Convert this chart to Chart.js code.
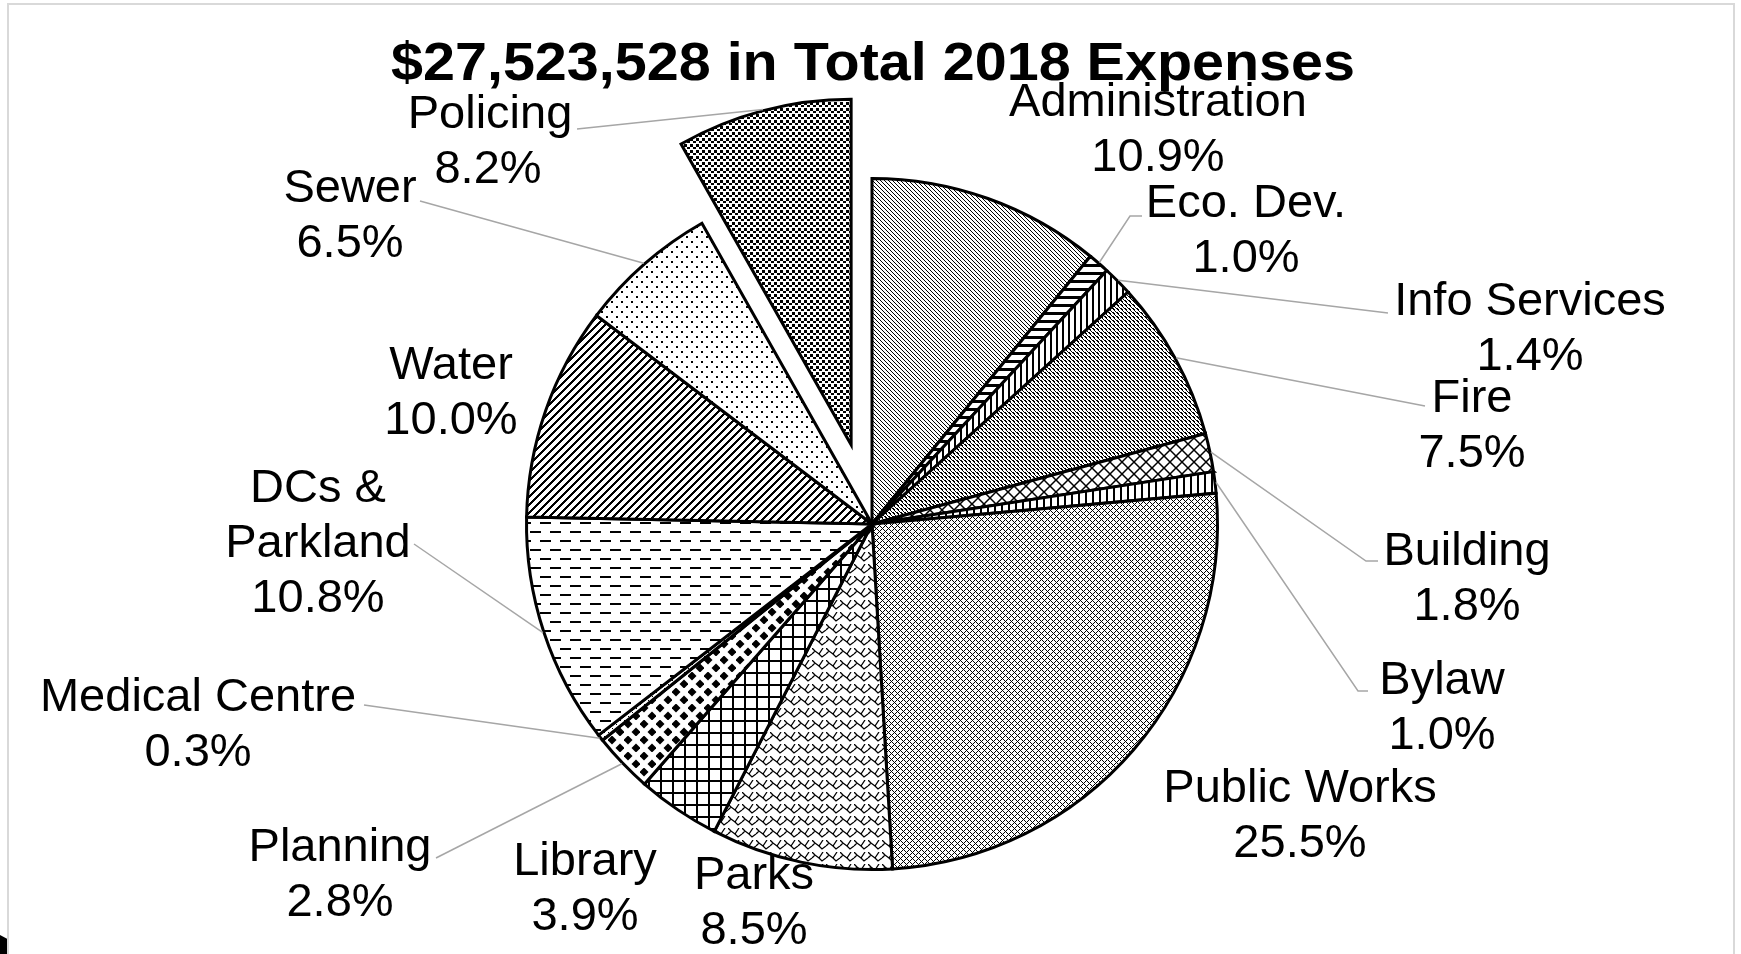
<!DOCTYPE html>
<html>
<head>
<meta charset="utf-8">
<script src="https://cdn.jsdelivr.net/npm/chart.js@4/dist/chart.umd.min.js"></script>
<style>
  html, body { margin: 0; padding: 0; background: #fff; }
  #wrap { position: relative; width: 1741px; height: 954px; overflow: hidden; }
  #frame { position: absolute; left: 7px; top: 3px; width: 1728px; height: 970px; border: 2px solid #d9d9d9; box-sizing: border-box; }
  #blob { position: absolute; left: 0; top: 935px; width: 7px; height: 19px; background: #000; clip-path: polygon(0 0, 100% 20%, 100% 100%, 0 100%); }
  canvas { position: absolute; left: 0; top: 0; }
</style>
</head>
<body>
<div id="wrap">
  <div id="frame"></div>
  <div id="blob"></div>
  <canvas id="myChart" width="1741" height="954"></canvas>
</div>
<script>
// chart data
const titleText = "$27,523,528 in Total 2018 Expenses";
const categories = ["Administration", "Eco. Dev.", "Info Services", "Fire", "Building", "Bylaw",
  "Public Works", "Parks", "Library", "Planning", "Medical Centre", "DCs &\nParkland",
  "Water", "Sewer", "Policing"];
const shares = [10.9, 1.0, 1.4, 7.5, 1.8, 1.0, 25.5, 8.5, 3.9, 2.8, 0.3, 10.8, 10.0, 6.5, 8.2];

// label layout: [center x, first baseline]
const labelPos = [
  [1158, 116], [1246, 217], [1530, 315], [1472, 412], [1467, 565], [1442, 694],
  [1300, 802], [754, 889], [585, 875], [340, 861], [198, 711], [318, 502],
  [451, 379], [350, 202], [490, 128]
];
const labelX2 = { 14: [490, 488] };
// leader lines: label side points (arc end is taken from the slice)
const leaders = [
  null, [[1142, 216], [1130, 216]], [[1388, 313]], [[1425, 406]], [[1378, 561], [1366, 561]],
  [[1368, 691], [1358, 691]], null, null, null, [[436, 858]], [[364, 705]], [[414, 544]],
  null, [[420, 201]], [[577, 129]]
];
const explodeIndex = 14;
const explodeDist = 82;
const center = { x: 872, y: 524 };
const radius = 345.5;

// fill patterns
function tile(w, h, draw) {
  const c = document.createElement("canvas");
  c.width = w; c.height = h;
  const g = c.getContext("2d");
  g.fillStyle = "#fff"; g.fillRect(0, 0, w, h);
  g.fillStyle = "#000"; g.strokeStyle = "#000";
  draw(g, w, h);
  return g.createPattern(c, "repeat");
}
function bits(rows) {
  return tile(rows[0].length, rows.length, g => {
    rows.forEach((r, y) => [...r].forEach((b, x) => { if (b === "1") g.fillRect(x, y, 1, 1); }));
  });
}
function diag(n, thick, up) {
  const rows = [];
  for (let y = 0; y < n; y++) {
    let r = "";
    for (let x = 0; x < n; x++) {
      const d = up ? ((x + y) % n) : (((x - y) % n) + n) % n;
      r += d < thick ? "1" : "0";
    }
    rows.push(r);
  }
  return bits(rows);
}

const patterns = [
  diag(4, 1, false),                                         // Administration
  tile(8, 8, g => g.fillRect(0, 0, 8, 3)),                   // Eco. Dev.
  tile(6, 6, g => g.fillRect(0, 0, 2, 6)),                   // Info Services
  bits(["1100", "0110", "0010", "0001"]),                    // Fire
  tile(12, 12, g => {                                        // Building
    g.lineWidth = 1.5;
    g.beginPath(); g.moveTo(-1, -1); g.lineTo(13, 13); g.moveTo(13, -1); g.lineTo(-1, 13); g.stroke();
  }),
  tile(7, 7, g => g.fillRect(0, 0, 2, 7)),                   // Bylaw
  tile(6, 6, g => {                                          // Public Works
    for (let x = 0; x < 6; x++) for (let y = 0; y < 6; y++) {
      if ((x + y) % 6 === 0 || ((x - y) % 6 + 6) % 6 === 0) g.fillRect(x, y, 1, 1);
    }
  }),
  tile(14, 12, g => {                                        // Parks
    g.lineWidth = 1.3;
    g.beginPath();
    g.moveTo(0, 6); g.lineTo(3, 3); g.lineTo(7, 6); g.lineTo(10, 9); g.lineTo(14, 6);
    g.moveTo(0, 0); g.lineTo(3, 3); g.moveTo(7, 6); g.lineTo(11, 0);
    g.stroke();
  }),
  tile(12, 12, g => { g.fillRect(0, 0, 12, 2); g.fillRect(0, 0, 2, 12); }), // Library
  tile(16, 16, g => {                                        // Planning
    [[4, 4], [12, 12]].forEach(([cx, cy]) => {
      g.beginPath(); g.moveTo(cx, cy - 4.5); g.lineTo(cx + 4.5, cy); g.lineTo(cx, cy + 4.5); g.lineTo(cx - 4.5, cy); g.closePath(); g.fill();
    });
  }),
  tile(4, 4, g => g.fillRect(0, 0, 1, 1)),                   // Medical Centre
  tile(20, 18, g => { g.fillRect(0, 0, 11, 2); g.fillRect(10, 9, 10, 2); g.fillRect(0, 9, 1, 2); }), // DCs & Parkland
  diag(8, 3, true),                                          // Water
  tile(10, 10, g => { g.fillRect(1, 1, 2, 2); g.fillRect(6, 6, 2, 2); }), // Sewer
  tile(6, 6, g => { g.fillRect(0, 0, 3, 3); g.fillRect(3, 3, 3, 2); })    // Policing
];

// move the exploded slice out along its mid angle
const explodePlugin = {
  id: "explode",
  afterDatasetsUpdate(chart) {
    const arc = chart.getDatasetMeta(0).data[explodeIndex];
    const mid = (arc.startAngle + arc.endAngle) / 2;
    arc.x += Math.cos(mid) * explodeDist;
    arc.y += Math.sin(mid) * explodeDist;
  }
};

// title, outside labels and leader lines
const labelPlugin = {
  id: "outsideLabels",
  afterDraw(chart) {
    const ctx = chart.ctx;
    const arcs = chart.getDatasetMeta(0).data;
    ctx.save();
    ctx.strokeStyle = "#a6a6a6";
    ctx.lineWidth = 1.5;
    leaders.forEach((pts, i) => {
      if (!pts) return;
      const a = arcs[i];
      const mid = (a.startAngle + a.endAngle) / 2;
      const r = a.outerRadius + 1;
      ctx.beginPath();
      ctx.moveTo(pts[0][0], pts[0][1]);
      pts.slice(1).forEach(p => ctx.lineTo(p[0], p[1]));
      ctx.lineTo(a.x + Math.cos(mid) * r, a.y + Math.sin(mid) * r);
      ctx.stroke();
    });

    ctx.fillStyle = "#000";
    ctx.textAlign = "center";
    ctx.textBaseline = "alphabetic";
    ctx.font = "47px 'Liberation Sans', Arial, sans-serif";
    categories.forEach((name, i) => {
      const lines = name.split("\n").concat([shares[i].toFixed(1) + "%"]);
      const [x, y] = labelPos[i];
      lines.forEach((t, k) => {
        const lx = labelX2[i] ? labelX2[i][Math.min(k, 1)] : x;
        ctx.fillText(t, lx, y + k * 55);
      });
    });

    ctx.font = "bold 54px 'Liberation Sans', Arial, sans-serif";
    const w = ctx.measureText(titleText).width;
    ctx.translate(873, 80);
    ctx.scale(964 / w, 1);
    ctx.fillText(titleText, 0, 0);
    ctx.restore();
  }
};

const ctx = document.getElementById("myChart").getContext("2d");
const chart = new Chart(ctx, {
  type: "pie",
  data: {
    labels: categories,
    datasets: [{
      data: shares,
      backgroundColor: patterns,
      borderColor: "#000",
      borderWidth: 3,
      borderJoinStyle: "miter"
    }]
  },
  options: {
    responsive: false,
    animation: false,
    radius: radius,
    layout: {
      padding: { left: 2 * center.x - 1741, right: 0, top: 2 * center.y - 954, bottom: 0 }
    },
    plugins: {
      legend: { display: false },
      title: { display: false },
      tooltip: { enabled: false }
    }
  },
  plugins: [explodePlugin, labelPlugin]
});
</script>
</body>
</html>
